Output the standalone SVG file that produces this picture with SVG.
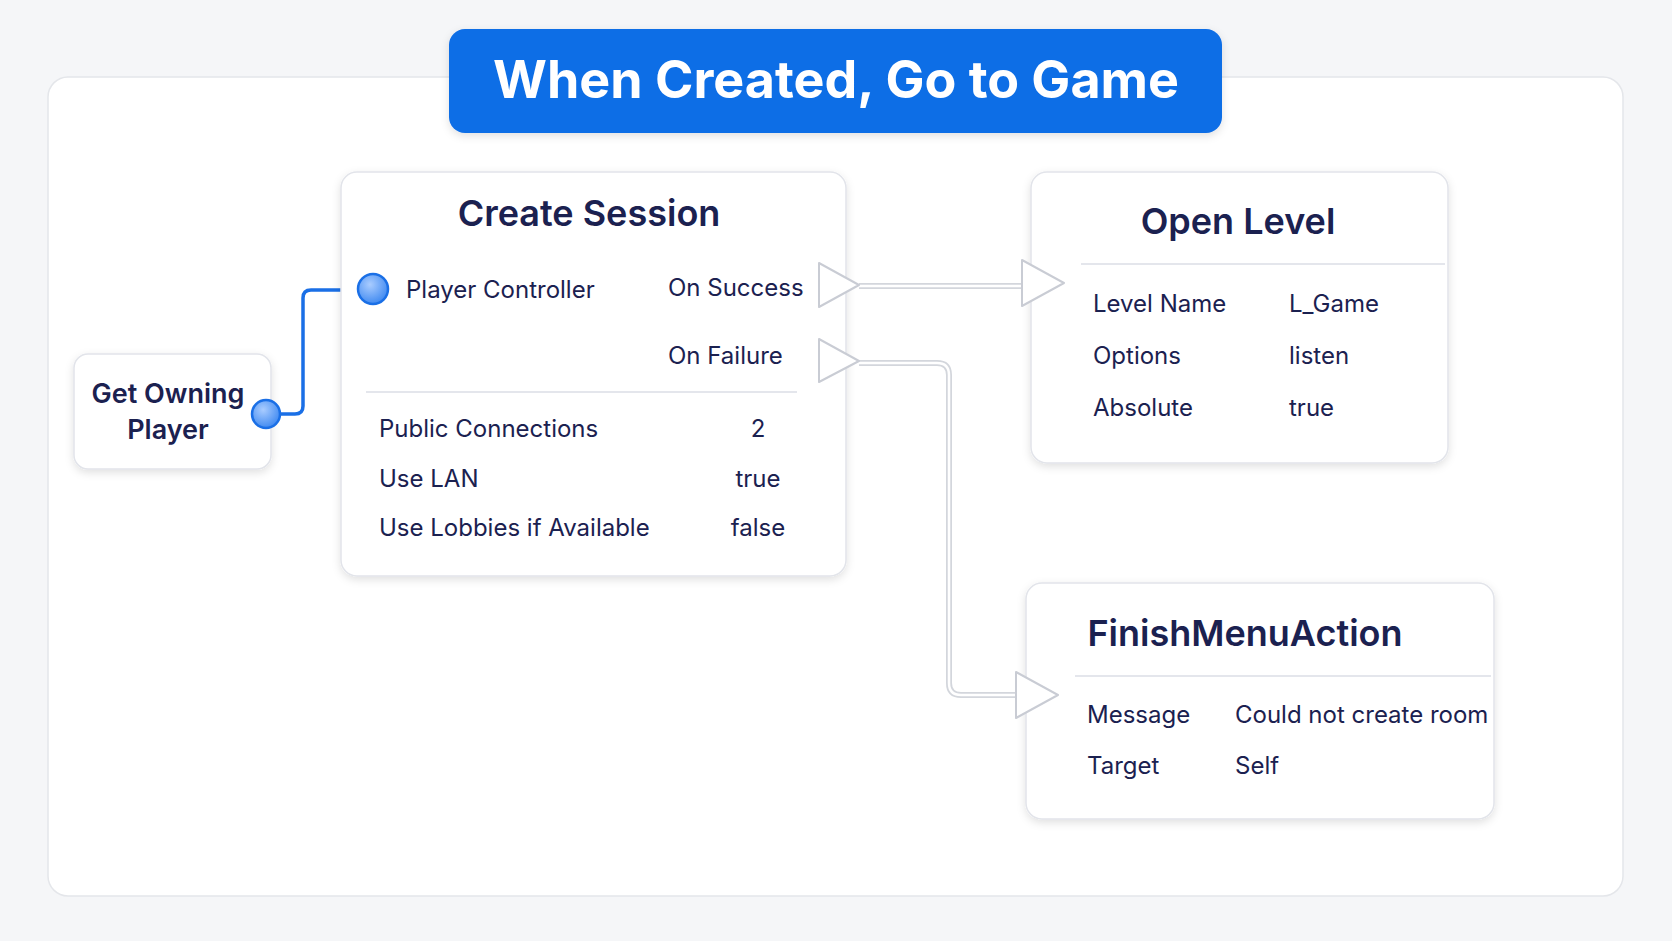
<svg xmlns="http://www.w3.org/2000/svg" width="1672" height="941" viewBox="0 0 1672 941">
<defs>
<filter id="sh" x="-10%" y="-10%" width="120%" height="130%"><feDropShadow dx="0" dy="3" stdDeviation="4" flood-color="#000" flood-opacity="0.12"/></filter>
<radialGradient id="bd" cx="0.4" cy="0.35" r="0.7"><stop offset="0" stop-color="#a9ccff"/><stop offset="1" stop-color="#3a86f0"/></radialGradient>
</defs>
<style>
.card{fill:#fff;stroke:#e2e4ea;stroke-width:1.5;filter:url(#sh)}
.t{font-family:Inter,"Noto Sans",sans-serif;fill:#1b2150}
.ttl{font-size:36px;font-weight:600;text-anchor:middle}
.r{font-size:24px}
.m{text-anchor:middle}
.div{stroke:#e4e6ec;stroke-width:2}
.tri{fill:#fff;stroke:#c9ccd4;stroke-width:2;stroke-linejoin:round}
.wire{fill:none;stroke:#d3d6dc;stroke-width:6}
.wire2{fill:none;stroke:#fff;stroke-width:2.5}
.dot{fill:url(#bd);stroke:#1a6fe6;stroke-width:2.5}
</style>
<rect width="1672" height="941" fill="#f5f6f8"/>
<rect x="48" y="77" width="1575" height="819" rx="20" fill="#fff" stroke="#e4e6ea" stroke-width="1.5"/>
<g id="title">
<rect x="449" y="29" width="773" height="104" rx="16" fill="#0e6ee6" filter="url(#sh)"/>
<text x="836" y="98" font-family="Inter,'Noto Sans',sans-serif" font-size="52" font-weight="700" fill="#fff" text-anchor="middle">When Created, Go to Game</text>
</g>
<g id="connectors">
<path class="wire" d="M859,286 H1022"/><path class="wire2" d="M859,286 H1022"/>
<path class="wire" d="M859,363 H937 q12 0 12 12 V683 q0 12 12 12 H1016"/><path class="wire2" d="M859,363 H937 q12 0 12 12 V683 q0 12 12 12 H1016"/>
<path d="M266,414 H295 q8 0 8-8 V298 q0-8 8-8 H373" fill="none" stroke="#1a6fe6" stroke-width="3.5"/>
</g>
<g id="get-owning-player">
<rect class="card" x="74" y="354" width="197" height="115" rx="14"/>
<text class="t m" x="168" y="403" font-size="27" font-weight="600">Get Owning</text>
<text class="t m" x="168" y="439" font-size="27" font-weight="600">Player</text>
<circle class="dot" cx="266" cy="414" r="14"/>
</g>
<g id="create-session">
<rect class="card" x="341" y="172" width="505" height="404" rx="16"/>
<text class="t ttl" x="589" y="226">Create Session</text>
<circle class="dot" cx="373" cy="289" r="15"/>
<text class="t r" x="406" y="298">Player Controller</text>
<text class="t r" x="668" y="296">On Success</text>
<text class="t r" x="668" y="364">On Failure</text>
<path class="tri" d="M819,263 L859,285 L819,307 Z"/>
<path class="tri" d="M819,339 L859,361 L819,382 Z"/>
<line class="div" x1="366" y1="392" x2="797" y2="392"/>
<text class="t r" x="379" y="437">Public Connections</text><text class="t r m" x="758" y="437">2</text>
<text class="t r" x="379" y="487">Use LAN</text><text class="t r m" x="758" y="487">true</text>
<text class="t r" x="379" y="536">Use Lobbies if Available</text><text class="t r m" x="758" y="536">false</text>
</g>
<g id="open-level">
<rect class="card" x="1031" y="172" width="417" height="291" rx="16"/>
<text class="t ttl" x="1238" y="234">Open Level</text>
<line class="div" x1="1081" y1="264" x2="1445" y2="264"/>
<path class="tri" d="M1022,260 L1064,283 L1022,306 Z"/>
<text class="t r" x="1093" y="312">Level Name</text><text class="t r" x="1289" y="312">L_Game</text>
<text class="t r" x="1093" y="364">Options</text><text class="t r" x="1289" y="364">listen</text>
<text class="t r" x="1093" y="416">Absolute</text><text class="t r" x="1289" y="416">true</text>
</g>
<g id="finish-menu-action">
<rect class="card" x="1026" y="583" width="468" height="236" rx="16"/>
<text class="t ttl" x="1245" y="646">FinishMenuAction</text>
<line class="div" x1="1075" y1="676" x2="1491" y2="676"/>
<path class="tri" d="M1016,672 L1058,695 L1016,718 Z"/>
<text class="t r" x="1087" y="723">Message</text><text class="t r" x="1235" y="723">Could not create room</text>
<text class="t r" x="1087" y="774">Target</text><text class="t r" x="1235" y="774">Self</text>
</g>
</svg>
